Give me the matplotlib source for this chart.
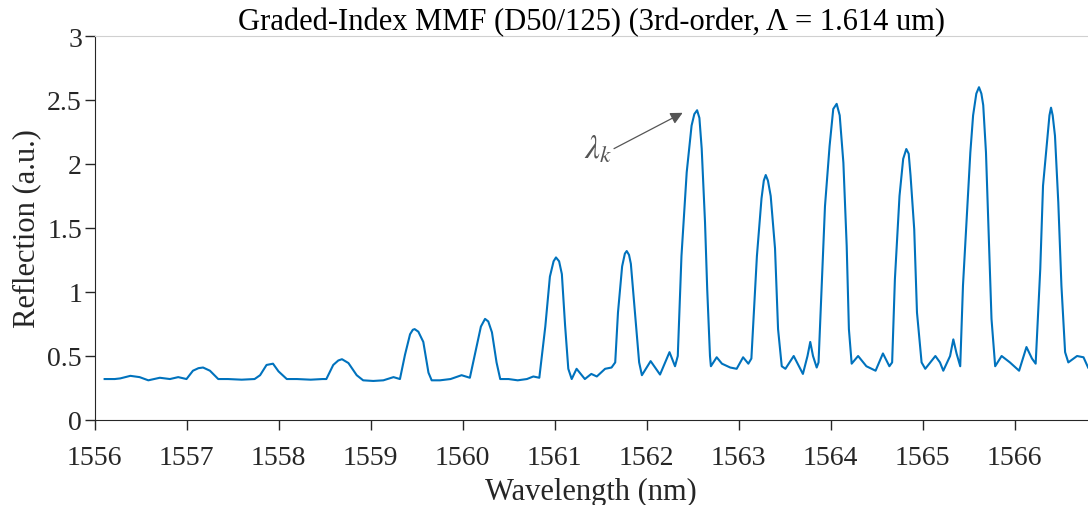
import matplotlib
matplotlib.use('Agg')
import matplotlib.pyplot as plt

# 数据：反射谱 (波长 nm, 反射 a.u.)
wavelength = [
    1556.11, 1556.22, 1556.28, 1556.39, 1556.49, 1556.585, 1556.71, 1556.82, 1556.91, 1557.00,
    1557.07, 1557.13, 1557.18, 1557.255, 1557.345, 1557.45, 1557.60, 1557.74, 1557.80, 1557.87,
    1557.94, 1558.00, 1558.09, 1558.20, 1558.35, 1558.48, 1558.52, 1558.595, 1558.65, 1558.69,
    1558.76, 1558.85, 1558.92, 1559.03, 1559.14, 1559.25, 1559.32, 1559.375, 1559.43, 1559.46,
    1559.48, 1559.52, 1559.574, 1559.63, 1559.665, 1559.755, 1559.87, 1559.99, 1560.08, 1560.155,
    1560.20, 1560.245, 1560.28, 1560.32, 1560.37, 1560.41, 1560.50, 1560.60, 1560.70, 1560.77,
    1560.835, 1560.90, 1560.95, 1560.99, 1561.016, 1561.05, 1561.08, 1561.115, 1561.15, 1561.187,
    1561.24, 1561.33, 1561.40, 1561.46, 1561.55, 1561.62, 1561.66, 1561.69, 1561.735, 1561.765,
    1561.785, 1561.81, 1561.83, 1561.875, 1561.92, 1561.95, 1562.045, 1562.147, 1562.25, 1562.31,
    1562.34, 1562.38, 1562.437, 1562.49, 1562.52, 1562.55, 1562.575, 1562.60, 1562.636, 1562.66,
    1562.69, 1562.70, 1562.763, 1562.82, 1562.91, 1562.98, 1563.05, 1563.107, 1563.14, 1563.20,
    1563.25, 1563.275, 1563.296, 1563.32, 1563.35, 1563.397, 1563.43, 1563.47, 1563.51, 1563.60,
    1563.70, 1563.75, 1563.78, 1563.81, 1563.85, 1563.87, 1563.90, 1563.94, 1563.99, 1564.03,
    1564.067, 1564.10, 1564.14, 1564.176, 1564.20, 1564.23, 1564.30, 1564.39, 1564.49, 1564.57,
    1564.64, 1564.67, 1564.70, 1564.75, 1564.79, 1564.824, 1564.85, 1564.87, 1564.91, 1564.94,
    1564.99, 1565.03, 1565.14, 1565.19, 1565.226, 1565.30, 1565.335, 1565.37, 1565.41, 1565.44,
    1565.48, 1565.52, 1565.55, 1565.585, 1565.614, 1565.64, 1565.66, 1565.69, 1565.72, 1565.75,
    1565.79, 1565.86, 1565.95, 1566.05, 1566.13, 1566.19, 1566.23, 1566.28, 1566.31, 1566.36,
    1566.38, 1566.397, 1566.415, 1566.44, 1566.476, 1566.51, 1566.55, 1566.585, 1566.68, 1566.75,
    1566.80,
]
reflection = [
    0.32, 0.32, 0.325, 0.345, 0.335, 0.31, 0.33, 0.32, 0.335, 0.32,
    0.385, 0.405, 0.41, 0.385, 0.32, 0.32, 0.315, 0.32, 0.35, 0.43,
    0.44, 0.38, 0.32, 0.32, 0.315, 0.32, 0.32, 0.43, 0.465, 0.475,
    0.445, 0.35, 0.31, 0.305, 0.31, 0.335, 0.32, 0.51, 0.67, 0.705,
    0.71, 0.69, 0.61, 0.37, 0.31, 0.31, 0.32, 0.35, 0.33, 0.58,
    0.73, 0.79, 0.77, 0.685, 0.45, 0.32, 0.32, 0.31, 0.32, 0.34,
    0.33, 0.73, 1.12, 1.24, 1.27, 1.24, 1.14, 0.74, 0.40, 0.32,
    0.40, 0.32, 0.36, 0.34, 0.40, 0.41, 0.45, 0.84, 1.20, 1.30,
    1.32, 1.29, 1.22, 0.84, 0.45, 0.35, 0.46, 0.355, 0.53, 0.42,
    0.50, 1.28, 1.935, 2.30, 2.39, 2.42, 2.36, 2.12, 1.545, 1.02,
    0.50, 0.42, 0.49, 0.44, 0.41, 0.40, 0.49, 0.44, 0.48, 1.28,
    1.73, 1.87, 1.914, 1.87, 1.75, 1.34, 0.71, 0.42, 0.40, 0.50,
    0.36, 0.50, 0.61, 0.50, 0.41, 0.45, 0.97, 1.67, 2.14, 2.43,
    2.47, 2.38, 2.01, 1.36, 0.71, 0.44, 0.50, 0.42, 0.385, 0.52,
    0.42, 0.45, 1.10, 1.75, 2.04, 2.117, 2.08, 1.91, 1.49, 0.84,
    0.45, 0.40, 0.50, 0.45, 0.385, 0.50, 0.63, 0.52, 0.42, 1.05,
    1.57, 2.09, 2.38, 2.55, 2.60, 2.55, 2.46, 2.09, 1.44, 0.79,
    0.42, 0.50, 0.45, 0.385, 0.57, 0.48, 0.44, 1.18, 1.83, 2.22,
    2.38, 2.44, 2.38, 2.22, 1.70, 1.05, 0.53, 0.45, 0.50, 0.49,
    0.41,
]
x_ticks = [1556, 1557, 1558, 1559, 1560, 1561, 1562, 1563, 1564, 1565, 1566]
y_ticks = [0, 0.5, 1, 1.5, 2, 2.5, 3]
y_tick_labels = ['0', '0.5', '1', '1.5', '2', '2.5', '3']

plt.rcParams['font.family'] = ['Liberation Serif', 'DejaVu Serif']
plt.rcParams['mathtext.fontset'] = 'stix'

dark = '#262626'

fig = plt.figure(figsize=(10.88, 5.06), dpi=100)
ax = fig.add_axes([94.5 / 1088, 1 - 421 / 506, 1 - 94.5 / 1088, 384 / 506])

ax.plot(wavelength, reflection, color='#0072BD', linewidth=1.5)

ax.set_xlim(1556, 1556 + (1088 - 94.5) / 92.0)
ax.set_ylim(0, 3)
ax.set_xticks(x_ticks)
ax.set_xticklabels([str(t) for t in x_ticks])
ax.set_yticks(y_ticks)
ax.set_yticklabels(y_tick_labels)

# 坐标轴样式
ax.spines['right'].set_visible(False)
ax.spines['top'].set_color('#d0d0d0')
ax.spines['left'].set_color(dark)
ax.spines['bottom'].set_color(dark)
ax.tick_params(direction='out', length=7, width=1.0, colors=dark, labelsize=20)
ax.tick_params(axis='x', pad=11)
ax.tick_params(axis='y', pad=2)

ax.set_title('Graded-Index MMF (D50/125) (3rd-order, Λ = 1.614 um)', fontsize=22, color='black', pad=3)
ax.set_xlabel('Wavelength (nm)', fontsize=22, color=dark, labelpad=5)
ax.set_ylabel('Reflection (a.u.)', fontsize=22, color=dark, labelpad=4)

# 标注 λ_k
ax.annotate('', xy=(1562.42, 2.41), xytext=(1561.62, 2.11),
            arrowprops=dict(arrowstyle='-|>', color='#555555', lw=0.9, mutation_scale=18))
ax.text(1561.47, 2.12, r'$\lambda_k$', fontsize=24, color='#555555', ha='center', va='center')

plt.savefig('out.png', dpi=100)
